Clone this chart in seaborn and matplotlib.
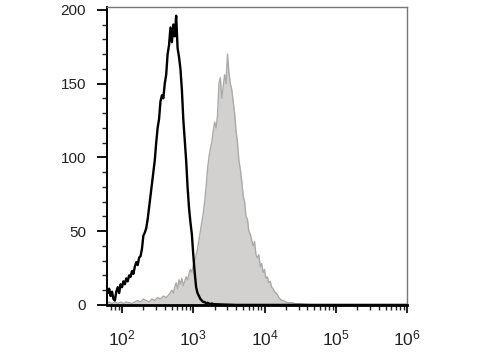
import numpy as np
import pandas as pd
import matplotlib
matplotlib.use("Agg")
import matplotlib.pyplot as plt
import seaborn as sns
from matplotlib.ticker import MultipleLocator, LogLocator, LogFormatterMathtext

# ---- data: log10 fluorescence intensity (bin centre) and cell counts ----
ctrl_log = [1.78, 1.80, 1.82, 1.84, 1.86, 1.88, 1.90, 1.92, 1.94, 1.96, 1.98,
            2.00, 2.02, 2.04, 2.06, 2.08, 2.10, 2.12, 2.14, 2.16, 2.18, 2.20,
            2.22, 2.24, 2.26, 2.28, 2.30, 2.32, 2.34, 2.36, 2.38, 2.40, 2.42,
            2.44, 2.46, 2.48, 2.50, 2.52, 2.54, 2.56, 2.58, 2.60, 2.62, 2.64,
            2.66, 2.68, 2.70, 2.72, 2.74, 2.76, 2.78, 2.80, 2.82, 2.84, 2.86,
            2.88, 2.90, 2.92, 2.94, 2.96, 2.98, 3.00, 3.02, 3.04, 3.06, 3.08,
            3.10, 3.12, 3.14, 3.16, 3.18, 3.20, 3.22, 3.24, 3.26, 3.28, 3.30,
            3.40, 3.60, 4.00, 5.00, 6.00]
ctrl_count = [10, 8, 11, 6, 9, 4, 3, 9, 12, 8, 14,
              12, 16, 14, 18, 16, 20, 19, 23, 21, 26, 29,
              27, 32, 33, 38, 47, 49, 52, 58, 66, 74, 82,
              90, 98, 110, 120, 126, 138, 142, 140, 150, 156, 170,
              176, 188, 178, 190, 182, 196, 174, 168, 160, 146, 126,
              112, 98, 80, 66, 56, 48, 34, 22, 12, 8, 6,
              4, 3, 2, 2, 1, 1.5, 1, 0.5, 1, 0.5, 0.5,
              0.3, 0, 0, 0, 0]

stain_log = [1.78, 1.82, 1.86, 1.90, 1.94, 1.98, 2.02, 2.06, 2.10, 2.14, 2.18,
             2.22, 2.26, 2.30, 2.34, 2.38, 2.42, 2.46, 2.50, 2.54, 2.58, 2.62,
             2.66, 2.70, 2.72, 2.74, 2.76, 2.78, 2.80, 2.82, 2.84, 2.86, 2.88,
             2.90, 2.92, 2.94, 2.96, 2.98, 3.00, 3.02, 3.04, 3.06, 3.08, 3.10,
             3.12, 3.14, 3.16, 3.18, 3.20, 3.22, 3.24, 3.26, 3.28, 3.30, 3.32,
             3.34, 3.36, 3.38, 3.40, 3.42, 3.44, 3.46, 3.48, 3.50, 3.52, 3.54,
             3.56, 3.58, 3.60, 3.62, 3.64, 3.66, 3.68, 3.70, 3.72, 3.74, 3.76,
             3.78, 3.80, 3.82, 3.84, 3.86, 3.88, 3.90, 3.92, 3.94, 3.96, 3.98,
             4.00, 4.02, 4.04, 4.06, 4.08, 4.10, 4.12, 4.14, 4.16, 4.18, 4.20,
             4.22, 4.24, 4.26, 4.28, 4.30, 4.34, 4.38, 4.42, 4.46, 4.50, 4.55,
             4.60, 4.70, 6.00]
stain_count = [1, 2, 1, 2, 1, 2, 1, 2, 1.5, 1, 2,
               3, 2, 4, 3, 2, 4, 3, 5, 4, 6, 5,
               7, 10, 8, 12, 15, 11, 17, 14, 18, 13, 16,
               19, 17, 21, 24, 22, 27, 30, 34, 38, 44, 50,
               56, 62, 70, 80, 92, 100, 106, 110, 118, 124, 120,
               128, 150, 154, 140, 148, 156, 150, 170, 158, 150, 146,
               138, 130, 118, 110, 98, 92, 84, 74, 70, 60, 58,
               50, 48, 44, 40, 43, 34, 32, 34, 26, 28, 22,
               24, 18, 19, 15, 16, 12, 11, 9, 8, 7, 5,
               4, 3, 3, 2.5, 2, 1.5, 1.5, 1, 0.8, 0.8, 0.5,
               0.3, 0, 0]

y_ticks = [0, 50, 100, 150, 200]

ctrl = pd.DataFrame({"intensity": np.power(10.0, ctrl_log), "count": ctrl_count})
stain = pd.DataFrame({"intensity": np.power(10.0, stain_log), "count": stain_count})

# ---- style ----
sns.set_style("ticks")
plt.rcParams["font.family"] = ["Liberation Sans", "DejaVu Sans"]
plt.rcParams["mathtext.fontset"] = "custom"
plt.rcParams["mathtext.rm"] = "Liberation Sans"
plt.rcParams["mathtext.it"] = "Liberation Sans"
plt.rcParams["mathtext.default"] = "regular"

fig = plt.figure(figsize=(4.8, 3.6), dpi=100)
ax = fig.add_axes([0.223, 0.153, 0.625, 0.828])

# stained sample: filled grey histogram
ax.fill_between(stain["intensity"], stain["count"], 0, color="#d3d1cf", lw=0, zorder=1)
sns.lineplot(data=stain, x="intensity", y="count", ax=ax, color="#aaaaaa",
             lw=1.0, estimator=None, sort=False, zorder=2)
# control: black line
sns.lineplot(data=ctrl, x="intensity", y="count", ax=ax, color="black",
             lw=1.7, estimator=None, sort=False, zorder=3)

ax.set_xscale("log")
ax.set_xlim(10 ** 1.79, 1e6)
ax.set_ylim(0, 202)
ax.set_xlabel("")
ax.set_ylabel("")

ax.set_yticks(y_ticks)
ax.yaxis.set_minor_locator(MultipleLocator(10))
ax.xaxis.set_major_locator(LogLocator(base=10, numticks=10))
ax.xaxis.set_minor_locator(LogLocator(base=10, subs=np.arange(2, 10), numticks=20))
ax.xaxis.set_major_formatter(LogFormatterMathtext())

ax.tick_params(axis="y", which="major", direction="out", length=7, width=1.3,
               labelsize=11, pad=8, colors="black", labelcolor="#222222")
ax.tick_params(axis="y", which="minor", direction="out", length=3.5, width=1.0)
ax.tick_params(axis="x", which="major", direction="out", length=6, width=1.5,
               labelsize=12.5, pad=11, labelcolor="#222222")
ax.tick_params(axis="x", which="minor", direction="out", length=3.5, width=1.0)

ax.spines["left"].set_color("black")
ax.spines["left"].set_linewidth(1.4)
ax.spines["bottom"].set_color("black")
ax.spines["bottom"].set_linewidth(2.0)
for side in ["top", "right"]:
    ax.spines[side].set_visible(True)
    ax.spines[side].set_color("#777777")
    ax.spines[side].set_linewidth(1.0)

fig.savefig("out.png", dpi=100)
